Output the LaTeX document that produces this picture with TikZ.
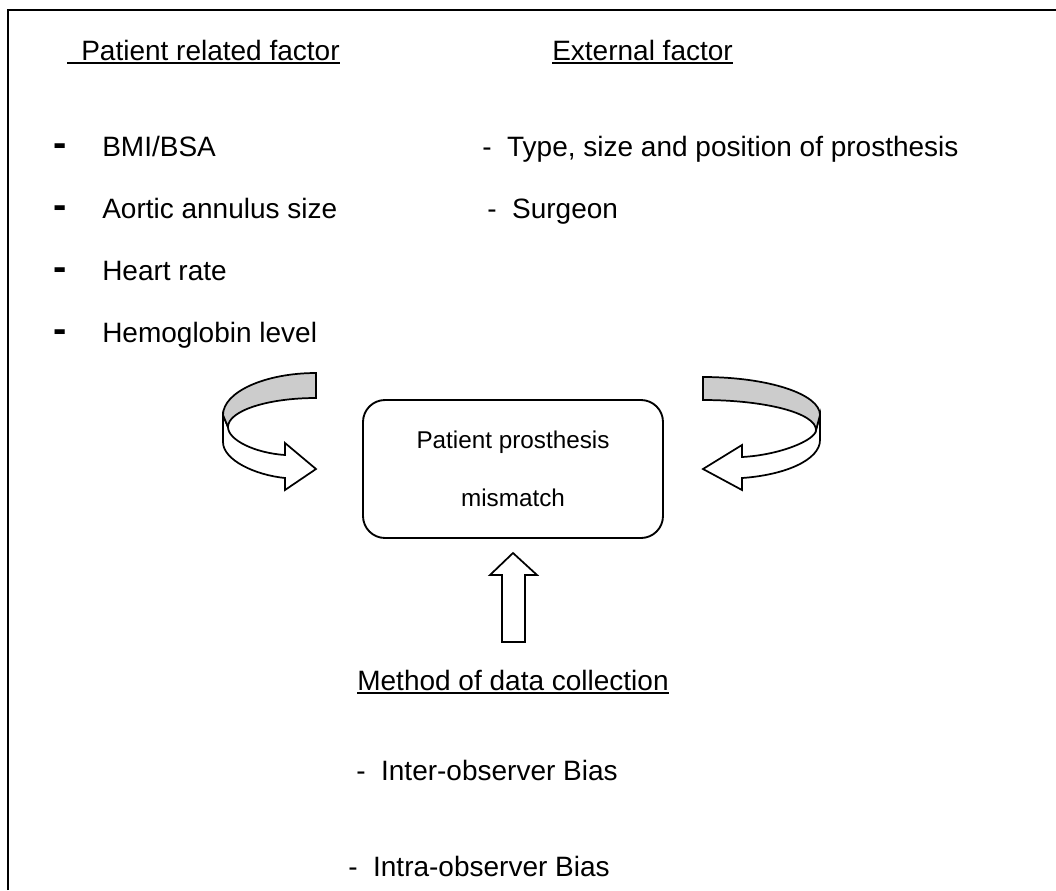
\documentclass[tikz,border=0pt]{standalone}
\usepackage{fontspec}
\setmainfont{Liberation Sans}
\begin{document}
\begin{tikzpicture}[x=0.75pt,y=-0.75pt,line join=miter,
  lbl/.style={inner sep=0pt,anchor=base west,font=\fontsize{21}{25}\selectfont},
  lblc/.style={inner sep=0pt,anchor=base,font=\fontsize{21}{25}\selectfont},
  dashmark/.style={inner sep=0pt,anchor=base west,font=\fontsize{30}{34}\selectfont\bfseries},
  ulined/.style={line width=1.1pt},
  frame/.style={line width=1.5pt},
  ppmbox/.style={draw,line width=1.4pt,rounded corners=16.5pt,minimum width=225pt,minimum height=103.5pt,inner sep=0pt,align=center,font=\fontsize{18.2}{43.5}\selectfont},
  blockarrow/.style={draw,line width=1.3pt,fill=white},
  ribbon/.style={draw,line width=1.3pt,fill=black!20}]
\useasboundingbox (0,0) rectangle (1056,890);
% frame (top and left edges)
\draw[frame] (8,890) -- (8,10) -- (1060,10);
% headers
\node[lbl] (hdrA) at (81,60) {Patient related factor};
\node[lbl] (hdrB) at (552,60) {External factor};
\coordinate (ulA) at (67,63);
\draw[ulined] (ulA) -- (ulA -| hdrA.east);
\draw[ulined] ([yshift=-2.25pt]hdrB.base west) -- ([yshift=-2.25pt]hdrB.base east);
% patient related items
\node[dashmark] (d1) at (53,156) {-};
\node[dashmark] (d2) at (53,218) {-};
\node[dashmark] (d3) at (53,280) {-};
\node[dashmark] (d4) at (53,342) {-};
\node[lbl] (p1) at (102,156) {BMI/BSA};
\node[lbl] (p2) at (102,218) {Aortic annulus size};
\node[lbl] (p3) at (102,280) {Heart rate};
\node[lbl] (p4) at (102,342) {Hemoglobin level};
% external items
\node[lbl] (e1) at (482,156) {-\ \ Type, size and position of prosthesis};
\node[lbl] (e2) at (487,218) {-\ \ Surgeon};
% central box
\node[ppmbox] (ppm) at (513,469) {Patient prosthesis\\mismatch};
% left curved arrow
\draw[blockarrow] (223,415) -- (223,442) .. controls (223,460) and (255,475) .. (285,478)
  -- (285,490) -- (316,469) -- (285,443) -- (285,455)
  .. controls (255,453) and (228,440) .. (228,427) -- cycle;
\draw[ribbon] (316,373) .. controls (265,373) and (223,392) .. (223,415)
  -- (228,427) .. controls (228,411) and (267,398) .. (316,398) -- cycle;
% right curved arrow
\draw[blockarrow] (820,415) -- (820,440) .. controls (820,460) and (785,475) .. (742,478)
  -- (742,490) -- (703,469) -- (742,445) -- (742,457)
  .. controls (780,455) and (816,440) .. (816,430) -- cycle;
\draw[ribbon] (703,377) .. controls (768,377) and (820,394) .. (820,415)
  -- (816,430) .. controls (816,413) and (765,400) .. (703,400) -- cycle;
% up arrow
\draw[blockarrow] (502,642) -- (502,575) -- (490,575) -- (513,553) -- (537,575)
  -- (525,575) -- (525,642) -- cycle;
% method
\node[lblc] (mth) at (513,690) {Method of data collection};
\draw[ulined] ([yshift=-2.25pt]mth.base west) -- ([yshift=-2.25pt]mth.base east);
\node[lbl] (b1) at (356,780) {-\ \ Inter-observer Bias};
\node[lbl] (b2) at (348,876) {-\ \ Intra-observer Bias};
\end{tikzpicture}
\end{document}
